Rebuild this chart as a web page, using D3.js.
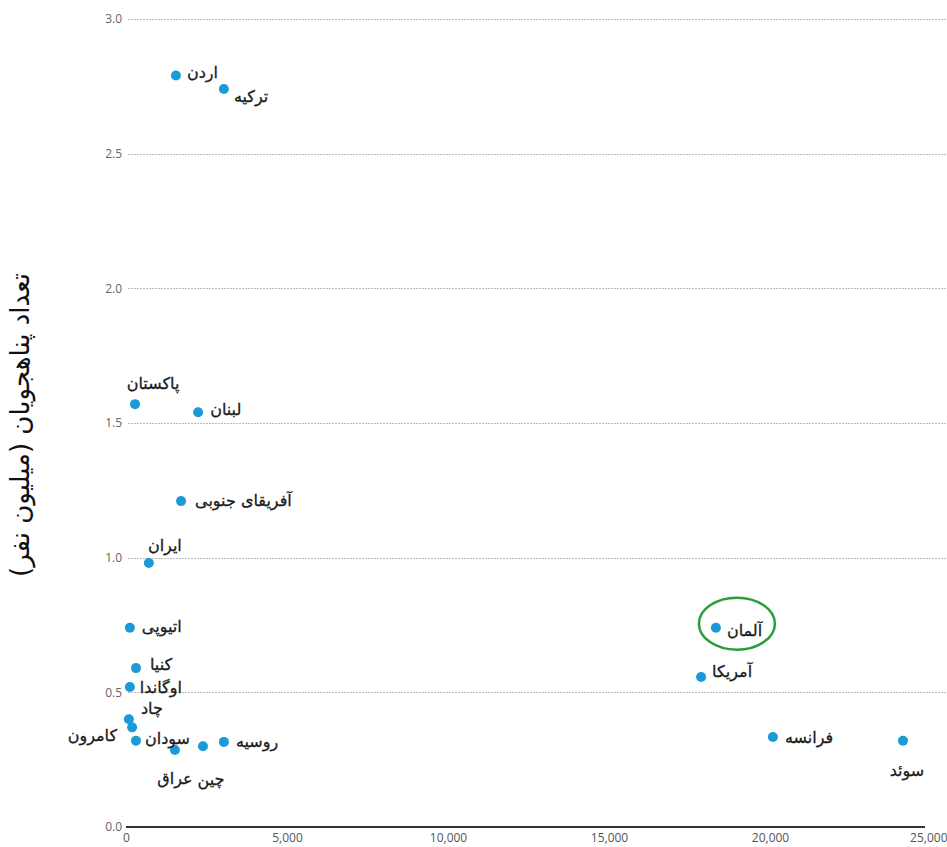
<!DOCTYPE html>
<html>
<head>
<meta charset="utf-8">
<script src="https://cdn.jsdelivr.net/npm/d3@7"></script>
<style>
  body { margin: 0; background: #fff; }
  svg { display: block; }
</style>
</head>
<body>
<div class="svg"></div>
<script>
// countries, x value, refugees (millions)
var countries = ["اردن", "ترکیه", "پاکستان", "لبنان", "آفریقای جنوبی", "ایران", "اتیوپی", "کنیا",
  "اوگاندا", "چاد", "کامرون", "سودان", "عراق", "چین", "روسیه", "آلمان", "آمریکا", "فرانسه", "سوئد"];
var xValues = [1550, 3040, 280, 2240, 1710, 710, 120, 310, 120, 90, 190, 310, 1520, 2390, 3040, 18320, 17860, 20090, 24130];
var refugees = [2.79, 2.74, 1.57, 1.54, 1.21, 0.98, 0.74, 0.59, 0.52, 0.40, 0.37, 0.32, 0.286, 0.30, 0.316, 0.74, 0.557, 0.334, 0.32];
var yTicks = [0, 0.5, 1, 1.5, 2, 2.5, 3];
var xTicks = [0, 5000, 10000, 15000, 20000, 25000];
var yTitle = "تعداد پناهجویان (میلیون نفر)";
var highlight = "آلمان";

// label placement: [dx, dy, anchor]
var labelPos = {
  "اردن": [11, 2, "start"],
  "ترکیه": [10, 13, "start"],
  "پاکستان": [18, -15, "middle"],
  "لبنان": [12, 3, "start"],
  "آفریقای جنوبی": [14, 5, "start"],
  "ایران": [16, -12, "middle"],
  "اتیوپی": [12, 4, "start"],
  "کنیا": [14, 2, "start"],
  "اوگاندا": [10, 6, "start"],
  "چاد": [12, -5, "start"],
  "کامرون": [-15, 14, "end"],
  "سودان": [9, 3, "start"],
  "عراق": [0, 34, "middle"],
  "چین": [8, 39, "middle"],
  "روسیه": [12, 5, "start"],
  "آلمان": [11, 8, "start"],
  "آمریکا": [11, 0, "start"],
  "فرانسه": [12, 6, "start"],
  "سوئد": [4, 35, "middle"]
};

function ScatterChart(settings) {
  Object.assign(this, ScatterChart.defaults, settings);
  this.data = countries.map(function (c, i) {
    return { name: c, x: xValues[i], y: refugees[i] };
  });
  this.appendSvg('div.svg');
  this.makeScales();
  this.drawAxes();
  this.drawPoints();
  this.drawLabels();
  this.drawHighlight();
}

ScatterChart.defaults = {
  svg_width: 947,
  svg_height: 847,
  left: 126,
  right: 931,
  top: 19,
  bottom: 827
};

ScatterChart.prototype.appendSvg = function (selector) {
  this.svg = d3.select(selector || 'body')
    .append('svg')
    .attr('width', this.svg_width)
    .attr('height', this.svg_height);
};

ScatterChart.prototype.makeScales = function () {
  this.x = d3.scaleLinear().domain([0, 25000]).range([this.left, this.right]);
  this.y = d3.scaleLinear().domain([0, 3]).range([this.bottom, this.top]);
};

ScatterChart.prototype.drawAxes = function () {
  var _self = this;
  var w = this.svg_width;

  // dotted gridlines
  this.svg.append('g')
    .selectAll('line')
    .data(yTicks.filter(function (d) { return d > 0; }))
    .enter()
    .append('line')
    .attr('x1', this.left + 2)
    .attr('x2', w)
    .attr('y1', function (d) { return Math.round(_self.y(d)) + 0.5; })
    .attr('y2', function (d) { return Math.round(_self.y(d)) + 0.5; })
    .attr('stroke', '#bbb')
    .attr('stroke-width', 1)
    .attr('stroke-dasharray', '2,1');

  // y tick labels
  var yAxis = this.svg.append('g')
    .attr('transform', 'translate(' + (this.left - 4) + ',0)')
    .call(d3.axisLeft(this.y).tickValues(yTicks).tickFormat(d3.format('.1f')).tickSize(0).tickPadding(0));
  yAxis.select('.domain').remove();
  yAxis.selectAll('text')
    .attr('font-family', "'Liberation Sans Narrow', 'Open Sans', sans-serif")
    .attr('font-size', '12px')
    .attr('fill', '#666');

  // x axis
  var xAxis = this.svg.append('g')
    .attr('transform', 'translate(0,' + this.bottom + ')')
    .call(d3.axisBottom(this.x).tickValues(xTicks).tickFormat(d3.format(',')).tickSize(0).tickPadding(6));
  xAxis.select('.domain')
    .attr('stroke', '#333')
    .attr('stroke-width', 2)
    .attr('d', 'M' + this.left + ',0H' + (this.right - 6));
  xAxis.selectAll('text')
    .attr('font-family', "'Liberation Sans Narrow', 'Open Sans', sans-serif")
    .attr('font-size', '12px')
    .attr('fill', '#555');
  // keep the last label inside the page
  xAxis.selectAll('.tick')
    .filter(function (d) { return d === 25000; })
    .select('text')
    .attr('text-anchor', 'end')
    .attr('dx', 16);

  // y title
  this.svg.append('text')
    .attr('transform', 'translate(29,' + 425 + ') rotate(-90)')
    .attr('text-anchor', 'middle')
    .attr('font-family', "'DejaVu Sans', sans-serif")
    .attr('font-size', '26px')
    .attr('fill', '#111')
    .text(yTitle);
};

ScatterChart.prototype.drawPoints = function () {
  var _self = this;
  this.svg.append('g')
    .selectAll('circle')
    .data(this.data)
    .enter()
    .append('circle')
    .attr('cx', function (d) { return _self.x(d.x); })
    .attr('cy', function (d) { return _self.y(d.y); })
    .attr('r', 5)
    .attr('fill', '#1a9bd7');
};

ScatterChart.prototype.drawLabels = function () {
  var _self = this;
  this.svg.append('g')
    .selectAll('text')
    .data(this.data)
    .enter()
    .append('text')
    .attr('x', function (d) { return _self.x(d.x) + labelPos[d.name][0]; })
    .attr('y', function (d) { return _self.y(d.y) + labelPos[d.name][1]; })
    .attr('text-anchor', function (d) { return labelPos[d.name][2]; })
    .attr('font-family', "'DejaVu Sans', sans-serif")
    .attr('font-size', '16px')
    .attr('fill', '#1a1a1a')
    .attr('stroke', '#1a1a1a')
    .attr('stroke-width', 0.3)
    .text(function (d) { return d.name; });
};

ScatterChart.prototype.drawHighlight = function () {
  var d = this.data.filter(function (p) { return p.name === highlight; })[0];
  this.svg.append('ellipse')
    .attr('cx', this.x(d.x) + 21)
    .attr('cy', this.y(d.y) - 4)
    .attr('rx', 38)
    .attr('ry', 26)
    .attr('fill', 'none')
    .attr('stroke', '#2a9d3a')
    .attr('stroke-width', 2.5);
};

new ScatterChart({});
</script>
</body>
</html>
